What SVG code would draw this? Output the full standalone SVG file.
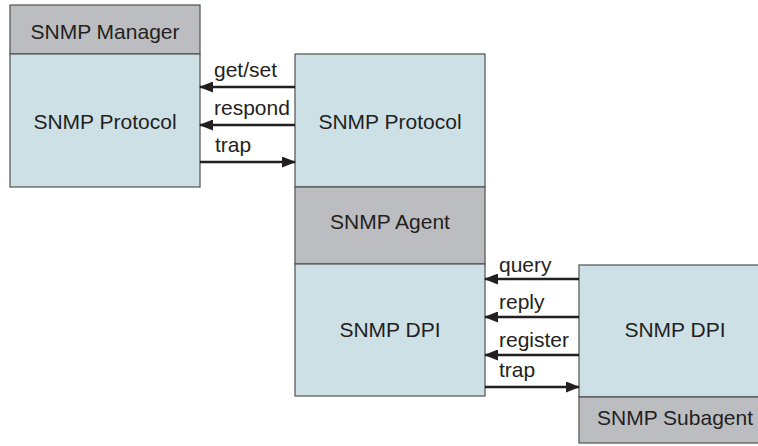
<svg xmlns="http://www.w3.org/2000/svg" width="758" height="446" viewBox="0 0 758 446">
<style>
.blue{fill:#cde0e6;stroke:#505050;stroke-width:1.2}
.gray{fill:#bcbdc0;stroke:#505050;stroke-width:1.2}
text{font-family:"Liberation Sans",Arial,sans-serif;font-size:21px;fill:#231f20}
.c{text-anchor:middle}
.conn line{stroke:#231f20;stroke-width:2.5}
</style>
<defs>
<marker id="ah" markerWidth="14" markerHeight="11" refX="13" refY="5.5" orient="auto" markerUnits="userSpaceOnUse">
<path d="M0,0 L14,5.5 L0,11 Z" fill="#231f20"/>
</marker>
</defs>
<rect width="758" height="446" fill="#ffffff"/>
<g id="manager">
<rect class="gray" x="10" y="5" width="190" height="49"/>
<rect class="blue" x="10" y="54" width="190" height="133"/>
<text class="c" x="105" y="39">SNMP Manager</text>
<text class="c" x="105" y="129">SNMP Protocol</text>
</g>
<g id="agent">
<rect class="blue" x="295" y="54" width="190" height="133"/>
<rect class="gray" x="295" y="187" width="190" height="77"/>
<rect class="blue" x="295" y="264" width="190" height="132"/>
<text class="c" x="390" y="129">SNMP Protocol</text>
<text class="c" x="390" y="229">SNMP Agent</text>
<text class="c" x="390" y="337">SNMP DPI</text>
</g>
<g id="subagent">
<rect class="blue" x="579" y="265" width="192" height="132"/>
<rect class="gray" x="579" y="397" width="192" height="46"/>
<text class="c" x="675" y="337">SNMP DPI</text>
<text class="c" x="675" y="425">SNMP Subagent</text>
</g>
<g class="conn">
<line x1="295" y1="87" x2="200" y2="87" marker-end="url(#ah)"/>
<line x1="295" y1="125" x2="200" y2="125" marker-end="url(#ah)"/>
<line x1="200" y1="162" x2="295" y2="162" marker-end="url(#ah)"/>
<line x1="579" y1="279" x2="485" y2="279" marker-end="url(#ah)"/>
<line x1="579" y1="317" x2="485" y2="317" marker-end="url(#ah)"/>
<line x1="579" y1="355" x2="485" y2="355" marker-end="url(#ah)"/>
<line x1="485" y1="387" x2="579" y2="387" marker-end="url(#ah)"/>
<text x="214" y="77">get/set</text>
<text x="214" y="115">respond</text>
<text x="215" y="152">trap</text>
<text x="499" y="272">query</text>
<text x="499" y="309">reply</text>
<text x="499" y="347">register</text>
<text x="499" y="377">trap</text>
</g>
</svg>
